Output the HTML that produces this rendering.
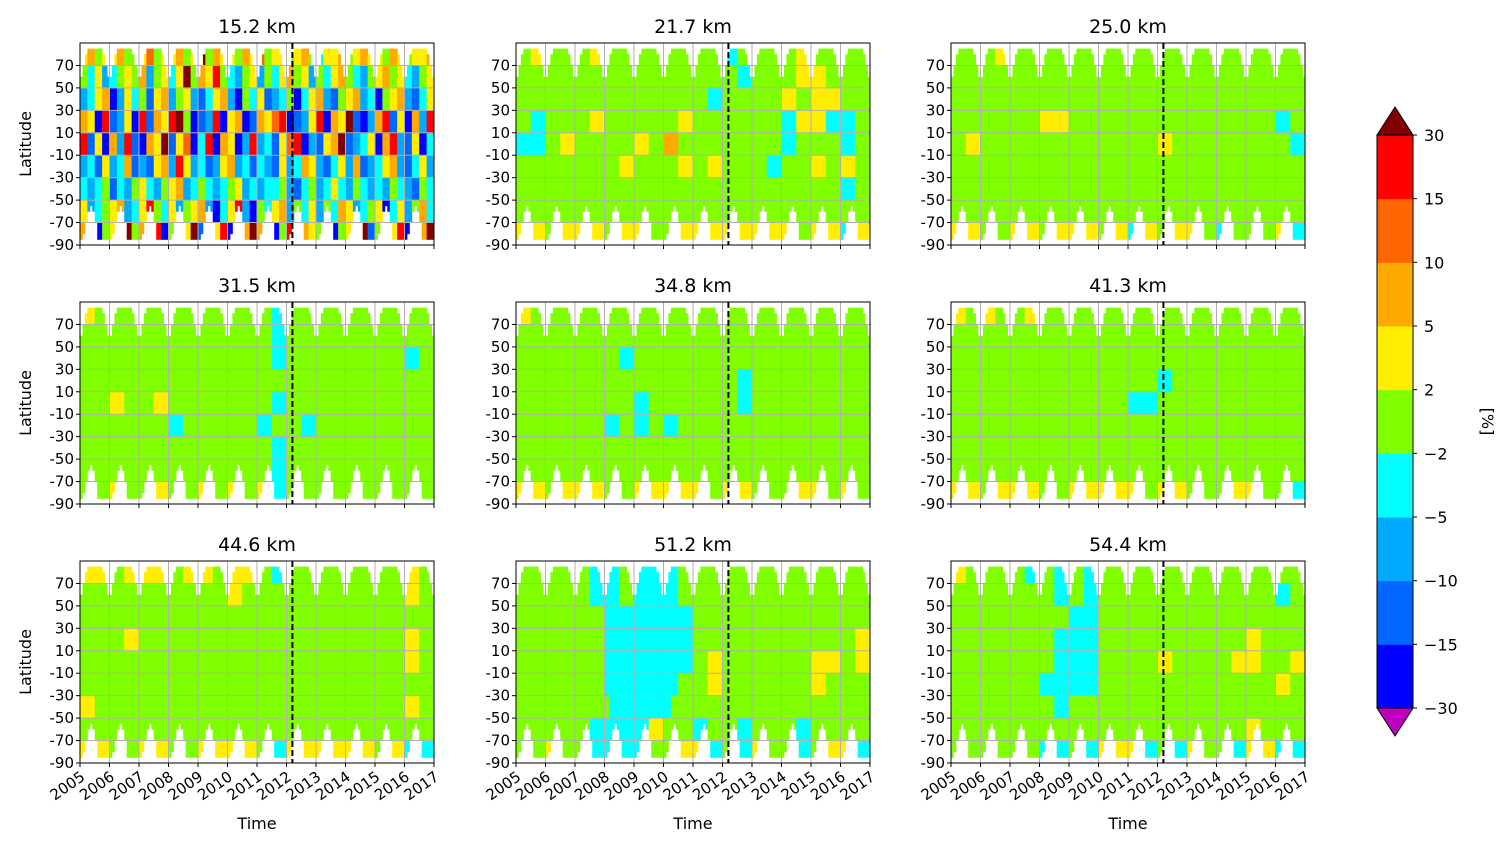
<!DOCTYPE html>
<html><head><meta charset="utf-8"><style>
body{margin:0;background:#fff;width:1504px;height:848px;overflow:hidden;font-family:"Liberation Sans","DejaVu Sans",sans-serif}
svg text{font-family:"DejaVu Sans","Liberation Sans",sans-serif}
</style></head><body>
<svg id="chart" width="1504" height="848" xmlns="http://www.w3.org/2000/svg"></svg>
<script>
// ---- data ----
const titles = ["15.2 km","21.7 km","25.0 km","31.5 km","34.8 km","41.3 km","44.6 km","51.2 km","54.4 km"];
const years = [2005,2006,2007,2008,2009,2010,2011,2012,2013,2014,2015,2016,2017];
const latTicks = [70,50,30,10,-10,-30,-50,-70,-90];
const levels = [-30,-15,-10,-5,-2,2,5,10,15,30];
const levelColors = ["#0000ff","#0066ff","#00aaff","#00ffff","#80ff00","#ffee00","#ffaa00","#ff6600","#ff0000"];
const underColor = "#c000c0", overColor = "#800000";
const codeValues = {B:-20,b:-12,S:-7,c:-3,g:0,y:3,o:7,O:12,r:20,R:35};
const northMax = [60,70,80,85,85,85,85,85,85,80,72,64];
const southMin = [-85,-80,-70,-62,-55,-62,-72,-85,-85,-85,-85,-85];
const breakYear = 2012.2;
// bands: 90..70, 70..50, ... , -70..-90 ; strings span 2005-2017
const p0 = ["yogyyoggyOgyyogyRgoyygoyOgyygyogcyyogyoyygoygyyo","gcyScgygoSgycyRgoyrgcSgySgcyogySgcyogcSgyogycSgy","ScyoBSycgbyoSgySbcyoSBgcybScgBcyoSbgyoScBgyoSbcy","oyBrbSyBrboyrRgBbSrByoBboyOrBbSyrBoyRbBSorbyBoSr","rbyBoSrbBoyRbyOBcrBoyBSrScbyOrBSbyoRbScyBorSbyBc","ScbyScobSbyoSryScbSyoScbcSbyScoySbcySobScyoSbcyS","cScgbcSgycSgyoScgcScgyScSccgSbcgScycSgcScSgcSbgc","yScgyoScyrgcySgyoSBcyrSBgcyoSgcySgcoyScgyBcySgoc","orBgyrRgoyrBgoyRbgyrBgoRoyBgrRoygrBgyoRbgoyrBgoR"];
const p1 = ["gygggyggggggggcggggygggg","gggggggggggggggcgggyyggg","gggggggggggggcggggygyygg","gcgggygggggyggggggcyyccg","ccgyggggygogggggggcgggcg","gggggggygggygygggcggygyg","ggggggggggggggggggggggcg","gggggggggggggggggggggggg","yygyyygyyggyyyyyyyygyycy"];
const p2 = ["gggygggggggggggggggggggg","gggggggggggggggggggggggg","gggggggggggggggggggggggg","ggggggyyggggggggggggggcg","gyggggggggggggyggggggggc","gggggggggggggggggggggggg","gggggggggggggggggggggggg","gggggggggggggggggggggggg","yyggyygyyygycygyygcgggyc"];
const p3 = ["yggggggggggggcgggggggggg","gggggggggggggcgggggggggg","gggggggggggggcggggggggcg","gggggggggggggggggggggggg","ggyggygggggggcgggggggggg","ggggggcgggggcggcgggggggg","gggggggggggggcgggggggggg","gggggggggggggcgggggggggg","ggyggyggygygycgggggggggg"];
const p4 = ["yggggggggggggggggggggggg","gggggggggggggggggggggggg","gggggggcgggggggggggggggg","gggggggggggggggcgggggggg","ggggggggcggggggcgggggggg","ggggggcgcgcggggggggggggg","gggggggggggggggggggggggg","gggggggggggggggggggggggg","yygyyyggyyyyygyygggyygyg"];
const p5 = ["ygyggygggggggggggggggggg","gggggggggggggggggggggggg","gggggggggggggggggggggggg","ggggggggggggggcggggggggg","ggggggggggggccgggggggggg","gggggggggggggggggggggggg","gggggggggggggggggggggggg","gggggggggggggggggggggggg","yygyyyggyyyyygyygggyyggc"];
const p6 = ["yygyyygyygyygcggggggggyg","ggggggggggygggggggggggyg","gggggggggggggggggggggggg","gggyggggggggggggggggggyg","ggggggggggggggggggggggyg","gggggggggggggggggggggggg","ygggggggggggggggggggggyg","gggggggggggggggggggggggg","yyggyyggyyyygcyyyyyygycc"];
const p7 = ["gggggccgcccggggggggggggg","gggggccgcccggggggggggggg","ggggggccccccgggggggggggg","ggggggccccccgggggggggggy","ggggggccccccgyggggggyygy","ggggggcccccggyggggggyggg","ggggggccccggggggggggggg","gggggccccyggcggcgggcgggg","ggyggccccggyycgcyggcgyyc"];
const p8 = ["yggggcgcgcgggggggggggggg","gggggggcgcggggggggggggcg","ggggggggccgggggggggggggg","gggggggcccggggggggggyggg","gggggggcccggggyggggyyggy","ggggggccccggggggggggggyg","gggggggcgggggggggggggggg","ggggggggggggggggggggyggg","ggggggccgcyyycgcyggcyycc"];
const panelData = [p0,p1,p2,p3,p4,p5,p6,p7,p8];

// ---- layout ----
const NS="http://www.w3.org/2000/svg";
const svg=document.getElementById('chart');
const lefts=[80,516,951], tops=[43,302,561], PW=354, PH=202;
function mk(tag,attrs,parent){const e=document.createElementNS(NS,tag);for(const k in attrs)e.setAttribute(k,attrs[k]);(parent||svg).appendChild(e);return e;}
function colorFor(v){if(v<levels[0])return underColor;if(v>=levels[levels.length-1])return overColor;for(let i=0;i<levels.length-1;i++){if(v>=levels[i]&&v<levels[i+1])return levelColors[i];}return overColor;}

panelData.forEach((pd,pi)=>{
  const L=lefts[pi%3], T=tops[Math.floor(pi/3)];
  const xs=t=>L+(t-years[0])/(years[years.length-1]-years[0])*PW;
  const ys=lat=>T+(90-lat)/180*PH;
  const g=mk('g',{});
  
  
  const cells=mk('g',{},g);
  
  
  const nMonths=(years[years.length-1]-years[0])*12;
  for(let lb=-90;lb<90;lb+=5){
    const band=Math.min(8,Math.floor((90-(lb+2.5))/20));
    let runStart=null, runColor=null;
    const flush=(end)=>{if(runStart!==null&&runColor){const r=mk('rect',{x:xs(years[0]+runStart/12),y:ys(lb+5),width:xs(years[0]+end/12)-xs(years[0]+runStart/12)+0.4,height:ys(lb)-ys(lb+5)+0.4,fill:runColor},cells);}};
    for(let m=0;m<=nMonths;m++){
      let c=null;
      if(m<nMonths){
        const mo=m%12;
        if(lb>=southMin[mo]&&lb+5<=northMax[mo]){
          const s=pd[band];
          const idx=Math.min(s.length-1,Math.floor(m*s.length/nMonths));
          c=colorFor(codeValues[s[idx]]);
        }
      }
      if(c!==runColor){flush(m);runStart=m;runColor=c;}
    }
  }
  years.forEach(y=>{const l=mk('line',{x1:xs(y),x2:xs(y),y1:T,y2:T+PH,stroke:'#b0b0b0','stroke-width':1},g);});
  latTicks.forEach(v=>{const l=mk('line',{x1:L,x2:L+PW,y1:ys(v),y2:ys(v),stroke:'#b0b0b0','stroke-width':1},g);});
  const bl=mk('line',{x1:xs(breakYear),x2:xs(breakYear),y1:T,y2:T+PH,stroke:'#000','stroke-width':2,'stroke-dasharray':'6,3'},g);
  
  
  const fr=mk('rect',{x:L,y:T,width:PW,height:PH,fill:'none',stroke:'#000','stroke-width':1},g);
  
  
  const tt=mk('text',{x:L+PW/2,y:T-10,'text-anchor':'middle','font-size':19},g);tt.textContent=titles[pi];
  
  
  latTicks.forEach(v=>{
    mk('line',{x1:L-4,x2:L,y1:ys(v),y2:ys(v),stroke:'#000'},g);
    const t=mk('text',{x:L-6,y:ys(v)+5,'text-anchor':'end','font-size':15},g);t.textContent=v;
    
    
  });
  years.forEach(y=>{mk('line',{x1:xs(y),x2:xs(y),y1:T+PH,y2:T+PH+4,stroke:'#000'},g);});
  if(pi%3===0){
    const yl=mk('text',{x:0,y:0,'text-anchor':'middle','font-size':16,transform:`translate(31,${T+PH/2}) rotate(-90)`},g);yl.textContent='Latitude';
    
    
  }
  if(pi>=6){
    years.forEach(y=>{
      const t=mk('text',{x:0,y:0,'text-anchor':'end','font-size':15,transform:`translate(${xs(y)+6},${T+PH+16}) rotate(-35)`},g);t.textContent=y;
      
      
    });
    const xl=mk('text',{x:L+PW/2,y:829,'text-anchor':'middle','font-size':16},g);xl.textContent='Time';
    
    
  }
});

const cb=mk('g',{});


const CX=1377,CW=36,CT=135,CB=708,nb=levelColors.length;
const bh=(CB-CT)/nb;
for(let i=0;i<nb;i++){
  const r=mk('rect',{x:CX,y:CB-(i+1)*bh,width:CW,height:bh+0.5,fill:levelColors[i]},cb);
  
  
}
const up=mk('polygon',{points:`${CX},${CT} ${CX+CW},${CT} ${CX+CW/2},${CT-28}`,fill:overColor,stroke:'#000','stroke-width':1},cb);


const dn=mk('polygon',{points:`${CX},${CB} ${CX+CW},${CB} ${CX+CW/2},${CB+28}`,fill:underColor,stroke:'#000','stroke-width':1},cb);


mk('rect',{x:CX,y:CT,width:CW,height:CB-CT,fill:'none',stroke:'#000'},cb);
levels.forEach((v,i)=>{
  const y=CB-i*bh;
  mk('line',{x1:CX+CW,x2:CX+CW+4,y1:y,y2:y,stroke:'#000'},cb);
  const t=mk('text',{x:CX+CW+11,y:y+6,'font-size':16},cb);t.textContent=(v<0?'\u2212'+(-v):v);
  
  
});
const cl=mk('text',{x:0,y:0,'text-anchor':'middle','font-size':16,transform:`translate(1482,${(CT+CB)/2}) rotate(90)`},cb);cl.textContent='[%]';


</script>
</body></html>
